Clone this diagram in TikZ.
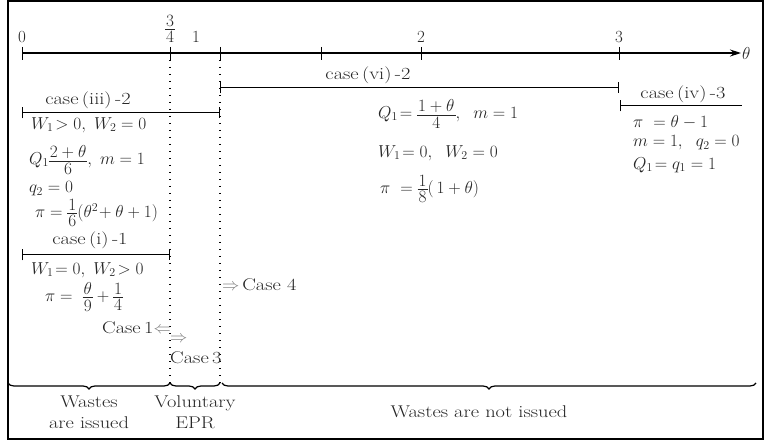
\documentclass[tikz,border=0pt]{standalone}
\usepackage{amsmath}
\usepackage{fontspec}
\usetikzlibrary{decorations.pathreplacing,arrows.meta}
\newcommand\wtx[1]{\scalebox{1.2}[1]{#1}}
\makeatletter
\newcommand\cfr[2]{\mathord{\vcenter{\offinterlineskip\ialign{\hfil##\hfil\cr\kern1pt$#1$\kern1pt\cr\noalign{\kern2.5pt\hrule height 0.6pt\kern2.5pt}$#2$\cr}}}}
\makeatother
\begin{document}
\begin{tikzpicture}[x=1pt,y=-1pt,
  every node/.style={font=\fontsize{17}{21}\selectfont, text=black!85, inner sep=0pt},
  lt/.style={anchor=west},
  seg/.style={line width=1pt, {Bar[width=11pt]}-{Bar[width=11pt]}},
  segl/.style={line width=1pt, {Bar[width=11pt]}-},
  dotline/.style={line width=1.4pt, dash pattern=on 1.4pt off 5.6pt},
  bracest/.style={line width=1.2pt, decorate, decoration={brace, amplitude=6pt, mirror}}]
\useasboundingbox (0,0) rectangle (764,441);
\draw[line width=1.3pt] (8,1) rectangle (763,439);
% axis
\coordinate (a0) at (22,53);
\coordinate (aend) at (741,53);
\draw[line width=1.2pt, -{Stealth[length=11pt,width=7pt]}] (a0) -- (aend);
\foreach \x in {22,170,220,321,421,619} \draw[line width=1pt] (\x,47) -- (\x,60);
\node (l0) at (22,37) {0};
\node (l34) at (170,29) {$\cfr{3}{4}$};
\node (l1) at (196,37) {1};
\node (l2) at (421,37) {2};
\node (l3) at (619,37) {3};
\node[lt] (th) at (742,54) {$\theta$};
% dotted lines
\coordinate (d1t) at (170,60); \coordinate (d1b) at (170,383);
\coordinate (d2t) at (220,60); \coordinate (d2b) at (220,383);
\draw[dotline] (d1t) -- (d1b);
\draw[dotline] (d2t) -- (d2b);
% case segments
\coordinate (s6a) at (220,88); \coordinate (s6b) at (619,88);
\draw[seg] (s6a) -- (s6b);
\node (c6) at (368,75) {\wtx{case\,(vi)\,-2}};
\coordinate (s3a) at (22,113); \coordinate (s3b) at (220,113);
\draw[seg] (s3a) -- (s3b);
\node (c3) at (88,100) {\wtx{case\,(iii)\,-2}};
\coordinate (s1a) at (22,255); \coordinate (s1b) at (170,255);
\draw[seg] (s1a) -- (s1b);
\node (c1) at (90,240) {\wtx{case\,(i)\,-1}};
\coordinate (s4a) at (620,106); \coordinate (s4b) at (742,106);
\draw[segl] (s4a) -- (s4b);
\node (c4) at (683,94) {\wtx{case\,(iv)\,-3}};
% left texts
\node[lt] (t1) at (31,125) {$W_1\!>0,\ W_2=0$};
\node[lt] (t2) at (29,160) {$Q_1\cfr{2+\theta}{6},\ m=1$};
\node[lt] (t3) at (29,189) {$q_2=0$};
\node[lt] (t4) at (35,213) {$\pi=\cfr{1}{6}(\theta^2\!+\theta+1)$};
\node[lt] (t5) at (31,270) {$W_1\!=0,\ W_2\!>0$};
\node[lt] (t6) at (45,297) {$\pi=\ \cfr{\theta}{9}+\cfr{1}{4}$};
\node[anchor=east] (k1) at (171,328) {\wtx{Case\,1}{\color{gray}$\Leftarrow$}};
\node[lt] (k3a) at (170,339) {\color{gray}$\Rightarrow$};
\node[lt] (k3) at (170,358) {\wtx{Case\,3}};
\node[lt] (k4) at (222,285) {{\color{gray}$\Rightarrow$}\,\wtx{Case 4}};
% middle texts
\node[lt] (m1) at (378,114) {$Q_1\!=\cfr{1+\theta}{4},\ \ m=1$};
\node[lt] (m2) at (378,153) {$W_1\!=0,\ \ W_2=0$};
\node[lt] (m3) at (380,189) {$\pi\ =\cfr{1}{8}(\,1+\theta)$};
% right texts
\node[lt] (r1) at (633,122) {$\pi\ =\theta-1$};
\node[lt] (r2) at (633,143) {$m=1,\ \ q_2=0$};
\node[lt] (r3) at (633,165) {$Q_1\!=q_1=1$};
% braces
\coordinate (b0) at (8,383); \coordinate (b1) at (170,383);
\coordinate (b2) at (220,383); \coordinate (b3) at (756,383);
\draw[bracest] (b0) -- (b1);
\draw[bracest] (b1) -- (b2);
\draw[bracest] ([xshift=2pt]b2) -- (b3);
\node[align=center] (w1) at (89,412) {\wtx{Wastes}\\\wtx{are issued}};
\node[align=center] (w2) at (195,412) {\wtx{Voluntary}\\\wtx{EPR}};
\node (w3) at (479,412) {\wtx{Wastes are not issued}};
\end{tikzpicture}
\end{document}
